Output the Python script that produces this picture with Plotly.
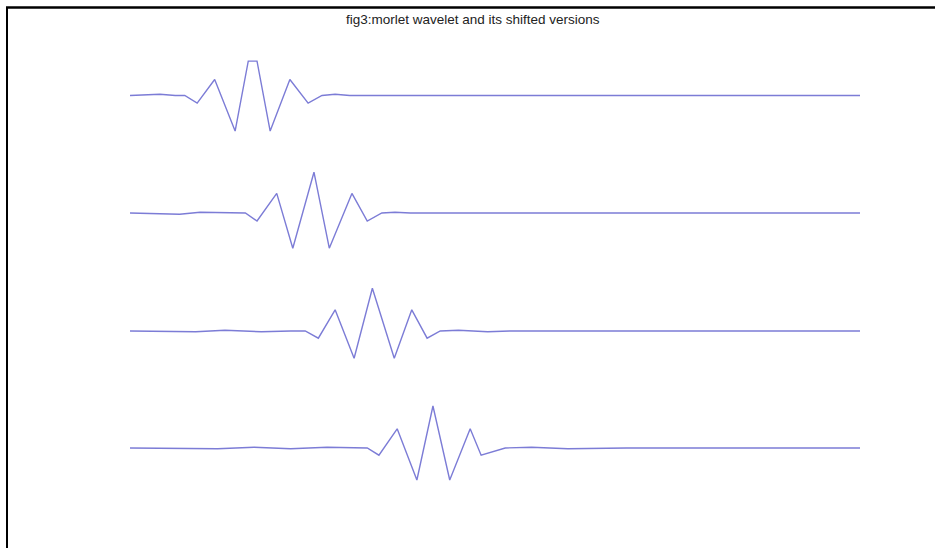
import plotly.graph_objects as go

# ---- data (time axis 0..100, amplitude normalised) ----
t1 = [0, 4.1, 6.2, 7.5, 9.2, 11.6, 14.4, 16.2, 17.4, 19.2, 21.9, 24.4, 26.3, 28.1, 30.1, 100]
y1 = [0, 0.03, 0, 0, -0.19, 0.40, -0.89, 0.86, 0.86, -0.89, 0.40, -0.19, 0, 0.03, 0, 0]

t2 = [0, 6.8, 9.6, 15.8, 17.4, 20.1, 22.3, 25.2, 27.3, 30.4, 32.5, 34.5, 36.3, 38.4, 41.0, 100]
y2 = [0, -0.03, 0.02, 0, -0.20, 0.49, -0.88, 1.02, -0.88, 0.49, -0.20, 0, 0.02, 0, 0, 0]

t3 = [0, 9.0, 13.0, 18.0, 22.0, 24.0, 25.8, 28.1, 30.7, 33.2, 36.2, 38.6, 40.7, 42.5, 45.0, 49.0, 52.0, 100]
y3 = [0, -0.02, 0.02, -0.02, 0, 0, -0.18, 0.53, -0.68, 1.07, -0.68, 0.53, -0.18, 0, 0.02, -0.02, 0, 0]

t4 = [0, 12.0, 17.0, 22.0, 27.0, 31.0, 32.5, 34.1, 36.6, 39.3, 41.5, 43.8, 46.6, 48.1, 51.4, 55.0, 60.0, 68.0, 100]
y4 = [0, -0.02, 0.02, -0.02, 0.02, 0, 0, -0.18, 0.48, -0.80, 1.05, -0.80, 0.48, -0.18, 0, 0.02, -0.02, 0, 0]

series_t = [t1, t2, t3, t4]
series_y = [y1, y2, y3, y4]
title_text = "fig3:morlet wavelet and its shifted versions"

# ---- layout ----
W, H = 935, 548
baselines_px = [95.5, 213, 331, 448]
px_per_unit = 40.0
half_units = 1.3
line_color = "#7c7cd6"

fig = go.Figure()
layout_axes = {}
for i, (tt, yy) in enumerate(zip(series_t, series_y)):
    n = i + 1
    xa = "x" if n == 1 else f"x{n}"
    ya = "y" if n == 1 else f"y{n}"
    fig.add_trace(go.Scatter(x=tt, y=yy, mode="lines", xaxis=xa, yaxis=ya,
                             line=dict(color=line_color, width=1.4),
                             showlegend=False, hoverinfo="skip"))
    b = baselines_px[i]
    top_px = b - half_units * px_per_unit
    bot_px = b + half_units * px_per_unit
    key_x = "xaxis" if n == 1 else f"xaxis{n}"
    key_y = "yaxis" if n == 1 else f"yaxis{n}"
    layout_axes[key_x] = dict(domain=[130 / W, 860 / W], range=[0, 100], visible=False,
                              anchor=ya, fixedrange=True)
    layout_axes[key_y] = dict(domain=[1 - bot_px / H, 1 - top_px / H],
                              range=[-half_units, half_units], visible=False,
                              anchor=xa, fixedrange=True)

fig.update_layout(
    width=W, height=H,
    margin=dict(l=0, r=0, t=0, b=0),
    paper_bgcolor="white", plot_bgcolor="white",
    showlegend=False,
    **layout_axes,
)

fig.add_annotation(text=title_text, xref="paper", yref="paper",
                   x=473 / W, y=1 - 20 / H, xanchor="center", yanchor="middle",
                   showarrow=False,
                   font=dict(family="Liberation Sans, Arial, sans-serif", size=13.5, color="#222222"))

# frame lines (left and top)
fig.add_shape(type="line", xref="paper", yref="paper",
              x0=7 / W, x1=7 / W, y0=0, y1=1 - 7 / H,
              line=dict(color="black", width=2))
fig.add_shape(type="line", xref="paper", yref="paper",
              x0=6 / W, x1=1, y0=1 - 7.5 / H, y1=1 - 7.5 / H,
              line=dict(color="black", width=2.5))

fig.write_html("out.html")
